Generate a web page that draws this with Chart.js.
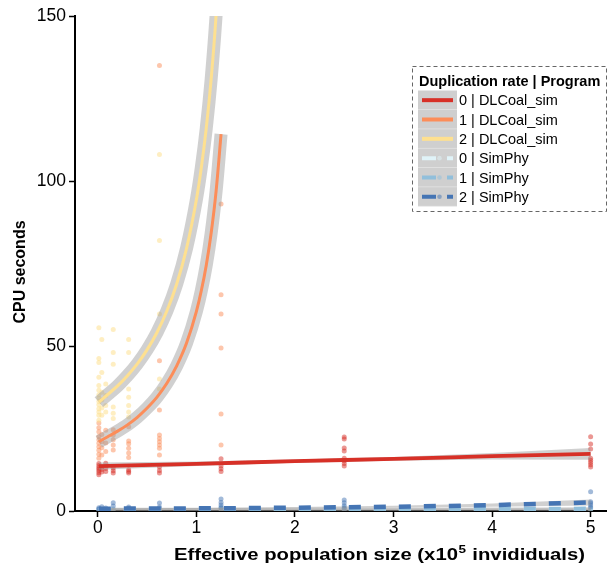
<!DOCTYPE html>
<html>
<head>
<meta charset="utf-8">
<script src="https://cdn.jsdelivr.net/npm/chart.js@4.4.1/dist/chart.umd.min.js"></script>
<style>
  html, body { margin: 0; padding: 0; background: #fff; }
</style>
</head>
<body>
<canvas id="cpuChart" width="610" height="565"></canvas>
<script>
// fitted curves
const fitX = [0.01, 0.1, 0.2, 0.3, 0.4, 0.5, 0.6, 0.7, 0.8, 0.9, 1.0, 1.05, 1.1, 1.15, 1.2, 1.25];
const fitDL1 = [21.0, 22.5, 24.2, 26.1, 28.4, 31.2, 34.5, 38.7, 44.0, 50.9, 60.5, 66.8, 74.5, 84.3, 97.0, 114.2];
const fitDL2 = [33.0, 35.3, 37.9, 41.0, 44.6, 48.9, 54.1, 60.6, 68.8, 79.6, 94.4, 104.1, 116.0, 131.0, 150.4, 176.7];

const lineX = [0.01, 1, 2, 3, 4, 5];
const fitDL0 = [13.6, 14.3, 15.1, 15.8, 16.6, 17.3];
const bandDL0Hi = [14.7, 15.0, 15.6, 16.4, 17.6, 19.1];
const bandDL0Lo = [12.5, 13.6, 14.6, 15.2, 15.6, 15.5];
const fitSP0 = [0.25, 0.25, 0.3, 0.3, 0.3, 0.3];
const fitSP1 = [0.4, 0.45, 0.5, 0.55, 0.6, 0.65];
const fitSP2 = [0.7, 0.8, 1.0, 1.3, 1.8, 2.6];
const bandSP2Hi = [1.0, 1.0, 1.2, 1.6, 2.3, 3.5];
const bandSP2Lo = [0.4, 0.6, 0.8, 1.0, 1.3, 1.7];

// raw runs [Ne x1e5, cpu seconds]
const ptsDL0 = [[0.01,11],[0.01,11.6],[0.01,12.2],[0.01,12.7],[0.01,13.2],[0.01,13.8],[0.01,14.4],
  [0.04,11.8],[0.04,12.6],[0.04,13.3],[0.08,12],[0.08,12.9],[0.08,14.5],
  [0.156,11.5],[0.156,12.2],[0.156,13],[0.3125,11.5],[0.3125,12],[0.3125,12.5],
  [0.625,11.5],[0.625,12.3],[0.625,13.3],[1.25,12],[1.25,12.8],[1.25,13.6],[1.25,15.8],
  [2.5,13.6],[2.5,14.4],[2.5,15.2],[2.5,16],[2.5,18.2],[2.5,19.1],[2.5,21.8],[2.5,22.4],
  [5,13.3],[5,14],[5,14.7],[5,15.4],[5,16],[5,18.8],[5,20.3],[5,22.5]];
const ptsDL1 = [[0.01,16],[0.01,17.2],[0.01,18.4],[0.01,19.5],[0.01,20.5],[0.01,21.6],[0.01,22.6],[0.01,24],[0.01,25.2],[0.01,26.7],
  [0.04,17],[0.04,19.2],[0.04,21],[0.04,23.2],[0.08,18],[0.08,20.6],[0.08,24.5],
  [0.156,18.5],[0.156,20],[0.156,21.6],[0.156,23],[0.156,24.6],
  [0.3125,16.2],[0.3125,17.6],[0.3125,19],[0.3125,20.4],[0.3125,21.2],[0.3125,25.5],
  [0.625,17],[0.625,19],[0.625,20],[0.625,21],[0.625,22],[0.625,23],[0.625,30.6],[0.625,45.5],[0.625,135],
  [1.25,20],[1.25,29.4],[1.25,49.4],[1.25,59.7],[1.25,65.5],[1.25,93]];
const ptsDL2 = [[0.01,27.5],[0.01,29],[0.01,30],[0.01,31],[0.01,32.2],[0.01,33.2],[0.01,34.2],[0.01,35.2],[0.01,36.6],[0.01,38],[0.01,40.5],[0.01,45],[0.01,46.2],[0.01,55.5],
  [0.04,29],[0.04,31.2],[0.04,33.6],[0.04,36],[0.04,42],[0.04,52],[0.08,30],[0.08,32],[0.08,35],[0.08,38.5],
  [0.156,28],[0.156,29.6],[0.156,31.5],[0.156,44.5],[0.156,48],[0.156,55],
  [0.3125,28.5],[0.3125,30],[0.3125,32],[0.3125,34.5],[0.3125,37],[0.3125,48],[0.3125,52],
  [0.625,37],[0.625,40],[0.625,59.7],[0.625,82],[0.625,108]];
const ptsSP2 = [[0.01,0.6],[0.01,1.0],[0.04,1.3],[0.08,0.9],[0.156,1.5],[0.156,2.5],[0.3125,0.8],[0.3125,1.2],
  [0.625,1.2],[0.625,2.4],[1.25,1.0],[1.25,1.8],[1.25,2.6],[1.25,3.6],[2.5,0.8],[2.5,1.6],[2.5,2.5],[2.5,3.3],
  [5,1.2],[5,1.8],[5,2.4],[5,2.8],[5,5.8]];
const ptsSP1 = [[0.01,0.5],[0.156,0.6],[0.3125,0.5],[0.625,0.7],[1.25,0.6],[1.25,1.2],[2.5,0.7],[2.5,1.1],[5,0.6],[5,0.9]];
const ptsSP0 = [[0.01,0.3],[0.156,0.3],[0.625,0.3],[1.25,0.4],[2.5,0.3],[5,0.3]];

const xTicks = [0, 1, 2, 3, 4, 5];
const yTicks = [0, 50, 100, 150];

const groupLabels = ["0 | DLCoal_sim", "1 | DLCoal_sim", "2 | DLCoal_sim", "0 | SimPhy", "1 | SimPhy", "2 | SimPhy"];
const groupColors = ["#d73027", "#fc8d59", "#fee090", "#e0f3f8", "#91bfdb", "#4575b4"];
const pointColors = ["rgba(215,48,39,0.5)", "rgba(252,141,89,0.5)", "rgba(254,224,144,0.55)",
  "rgba(224,243,248,0.5)", "rgba(145,191,219,0.5)", "rgba(69,117,180,0.5)"];
const bandGrey = "rgba(150,150,150,0.45)";
const FONT = '"Liberation Sans", Arial, Helvetica, sans-serif';

const xy = (xs, ys) => xs.map((x, i) => ({x: x, y: ys[i]}));
const pairs = (p) => p.map(d => ({x: d[0], y: d[1]}));

function curve(data, color, width, dashed) {
  return {
    data: data, showLine: true, borderColor: color, borderWidth: width,
    borderDash: dashed ? [12, 13] : [], borderCapStyle: "butt",
    pointRadius: 0, fill: false, cubicInterpolationMode: "monotone"
  };
}
function ribbon(data, fillTo) {
  return {
    data: data, showLine: true, borderWidth: 0, borderColor: "rgba(0,0,0,0)",
    backgroundColor: bandGrey, pointRadius: 0, fill: fillTo
  };
}
function dots(data, color) {
  return { data: data, showLine: false, pointRadius: 2.5, borderWidth: 0, backgroundColor: color, pointBackgroundColor: color };
}

// first dataset is drawn on top
const datasets = [
  curve(xy(lineX, fitSP2), groupColors[5], 4.5, true),
  curve(xy(lineX, fitSP1), groupColors[4], 4.5, true),
  curve(xy(lineX, fitSP0), groupColors[3], 4.5, true),
  curve(xy(fitX, fitDL2), groupColors[2], 3, false),
  curve(xy(fitX, fitDL1), groupColors[1], 3, false),
  curve(xy(lineX, fitDL0), groupColors[0], 3.8, false),
  ribbon(xy(lineX, bandSP2Hi), "+1"),
  ribbon(xy(lineX, bandSP2Lo), false),
  curve(xy(lineX, fitSP1), bandGrey, 3, false),
  curve(xy(lineX, fitSP0), bandGrey, 3, false),
  curve(xy(fitX, fitDL2), bandGrey, 13, false),
  curve(xy(fitX, fitDL1), bandGrey, 13, false),
  ribbon(xy(lineX, bandDL0Hi), "+1"),
  ribbon(xy(lineX, bandDL0Lo), false),
  dots(pairs(ptsSP2), pointColors[5]),
  dots(pairs(ptsSP1), pointColors[4]),
  dots(pairs(ptsSP0), pointColors[3]),
  dots(pairs(ptsDL2), pointColors[2]),
  dots(pairs(ptsDL1), pointColors[1]),
  dots(pairs(ptsDL0), pointColors[0])
];

// axis titles and the boxed legend
const decorations = {
  id: "decorations",
  afterDraw(chart) {
    const ctx = chart.ctx;
    ctx.save();
    ctx.fillStyle = "#000";
    ctx.textBaseline = "alphabetic";

    ctx.save();
    ctx.font = "bold 16px " + FONT;
    ctx.textAlign = "center";
    ctx.translate(25, 272);
    ctx.rotate(-Math.PI / 2);
    ctx.fillText("CPU seconds", 0, 0);
    ctx.restore();

    // x title is drawn a bit wide, as in the original
    const a = "Effective population size (x10", sup = "5", b = " invididuals)";
    ctx.save();
    ctx.textAlign = "left";
    ctx.font = "bold 16.5px " + FONT;
    const wa = ctx.measureText(a).width, wb = ctx.measureText(b).width;
    ctx.font = "bold 11px " + FONT;
    const ws = ctx.measureText(sup).width;
    const sx = 411 / (wa + ws + wb + 1);
    ctx.translate(174, 0);
    ctx.scale(sx, 1);
    ctx.font = "bold 16.5px " + FONT;
    ctx.fillText(a, 0, 560);
    ctx.font = "bold 11px " + FONT;
    ctx.fillText(sup, wa + 0.5, 553);
    ctx.font = "bold 16.5px " + FONT;
    ctx.fillText(b, wa + ws + 1, 560);
    ctx.restore();

    // legend box
    ctx.strokeStyle = "#666";
    ctx.lineWidth = 1;
    ctx.setLineDash([4, 3]);
    ctx.strokeRect(412.5, 66.5, 194, 145);
    ctx.setLineDash([]);
    ctx.textAlign = "left";
    ctx.font = "bold 14.5px " + FONT;
    ctx.fillText("Duplication rate | Program", 419, 86);

    const rowH = 19.33, top = 90.5;
    ctx.font = "14.5px " + FONT;
    groupLabels.forEach((lab, i) => {
      const y0 = top + i * rowH, yc = y0 + rowH / 2;
      ctx.fillStyle = "#cfcfcf";
      ctx.fillRect(418, y0, 39, rowH);
      ctx.fillStyle = "rgba(255,255,255,0.5)";
      ctx.fillRect(418, y0 + rowH - 0.6, 39, 0.6);
      ctx.strokeStyle = groupColors[i];
      ctx.lineWidth = 4;
      ctx.beginPath();
      if (i < 3) {
        ctx.moveTo(422, yc); ctx.lineTo(453, yc);
      } else {
        ctx.moveTo(422, yc); ctx.lineTo(436, yc);
        ctx.moveTo(447, yc); ctx.lineTo(453, yc);
      }
      ctx.stroke();
      if (i >= 3) {
        ctx.fillStyle = pointColors[i];
        ctx.beginPath(); ctx.arc(439.5, yc, 2.3, 0, Math.PI * 2); ctx.fill();
      }
      ctx.fillStyle = "#000";
      ctx.fillText(lab, 459, yc + 5.2);
    });
    ctx.restore();
  }
};

const ctx = document.getElementById("cpuChart").getContext("2d");
const cpuChart = new Chart(ctx, {
  type: "scatter",
  data: { datasets: datasets },
  options: {
    responsive: false,
    animation: false,
    devicePixelRatio: 1,
    layout: { padding: { top: 16, right: 0, left: 0, bottom: 0 } },
    plugins: { legend: { display: false }, tooltip: { enabled: false } },
    scales: {
      x: {
        type: "linear", min: -0.232, max: 5.156,
        afterFit: (s) => { s.height = 54; },
        afterBuildTicks: (s) => { s.ticks = xTicks.map(v => ({value: v})); },
        grid: { drawOnChartArea: false, tickLength: 6, tickWidth: 1.5, tickColor: "#000" },
        border: { display: true, color: "#000", width: 2 },
        ticks: { color: "#000", padding: 1, font: { family: FONT, size: 17.5 }, maxRotation: 0 }
      },
      y: {
        type: "linear", min: 0, max: 150,
        afterFit: (s) => { s.width = 75; },
        afterBuildTicks: (s) => { s.ticks = yTicks.map(v => ({value: v})); },
        grid: { drawOnChartArea: false, tickLength: 6, tickWidth: 1.5, tickColor: "#000" },
        border: { display: true, color: "#000", width: 2 },
        ticks: { color: "#000", padding: 3, font: { family: FONT, size: 17.5 } }
      }
    }
  },
  plugins: [decorations]
});
</script>
</body>
</html>
